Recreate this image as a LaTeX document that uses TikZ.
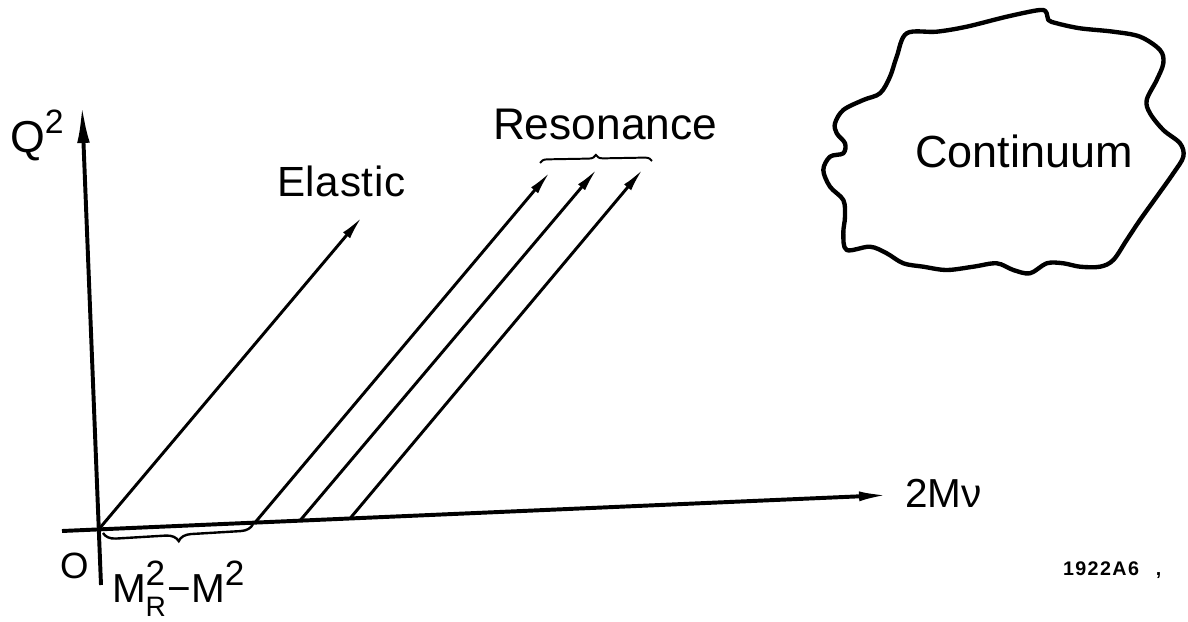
\documentclass[tikz,border=0pt]{standalone}
\usepackage{fontspec}
\setmainfont{Liberation Sans}
\usetikzlibrary{arrows.meta,decorations.pathreplacing}
\newcommand\setfs[1]{\fontsize{#1}{#1}\selectfont}
\begin{document}
\begin{tikzpicture}[x=0.025cm,y=-0.025cm,
  axis/.style={line width=2.8pt},
  ray/.style={line width=2.1pt,-{Latex[length=17pt,width=6.5pt]}},
  lbl/.style={anchor=base west,inner sep=0pt,outer sep=0pt},
  bracestyle/.style={line width=1.7pt,decorate},
  blob/.style={line width=3.1pt,line join=round}
]
\useasboundingbox (0,0) rectangle (1188,622);
% axes
\coordinate (ybot) at (101,585);
\coordinate (ytop) at (82,105);
\coordinate (xl) at (62,531);
\coordinate (xr) at (890,495);
\coordinate (o) at (98.7,529.4);
\draw[axis,-{Latex[length=27pt,width=9pt]}] (ybot) -- (ytop);
\draw[axis,-{Latex[length=22pt,width=7pt]}] (xl) -- (xr);
% rays
\coordinate (e1) at (362,217);
\coordinate (r1s) at (255,522.6);
\coordinate (r1e) at (550,172);
\coordinate (r2s) at (300,520.6);
\coordinate (r2e) at (597,169);
\coordinate (r3s) at (350,518.5);
\coordinate (r3e) at (643,169);
\draw[ray] (o) -- (e1);
\draw[ray] (r1s) -- (r1e);
\draw[ray] (r2s) -- (r2e);
\draw[ray] (r3s) -- (r3e);
% braces
\coordinate (bl) at (103,533);
\coordinate (br) at (253,524);
\draw[bracestyle,decoration={brace,mirror,amplitude=9pt}] (bl) -- (br);
\coordinate (tl) at (540,163);
\coordinate (tr) at (652,161);
\draw[bracestyle,line width=1.4pt,decoration={brace,amplitude=5pt}] (tl) -- (tr);
% continuum blob
\draw[blob] plot[smooth cycle,tension=0.55] coordinates {
(906.7,33.3) (936.7,31.7) (966.7,26.7) (1006.7,16.7) (1040,10) (1046.7,13.3)
(1048.3,20) (1056.7,23.3) (1080,28.3) (1113.3,31.7) (1140,36.7) (1160,50)
(1163.3,63.3) (1156.7,80) (1146.7,100) (1150,113.3) (1163.3,130) (1180,143.3)
(1183.3,156.7) (1173.3,173.3) (1156.7,196.7) (1140,220) (1126.7,240) (1113.3,260)
(1100,266.7) (1080,266.7) (1063.3,263.3) (1046.7,263.3) (1030,273.3) (1013.3,270)
(996.7,263.3) (973.3,266.7) (946.7,270) (923.3,266.7) (903.3,263.3) (886.7,253.3)
(870,246.7) (846.7,250) (843.3,233.3) (845,216.7) (843.3,200) (830,186.7)
(823.3,170) (830,156.7) (843.3,153.3) (845,143.3) (836.7,133.3) (835,123.3)
(843.3,110) (863.3,100) (880,93.3) (890,76.7) (896.7,56.7)};
% labels
\node[lbl] (qlab) at (10,153) {\setfs{31.8}Q\raisebox{14pt}{\setfs{24}2}};
\node[lbl] (elab) at (277,197) {\setfs{30}E\hspace{0.5pt}l\hspace{0.5pt}a\hspace{0.5pt}s\hspace{0.5pt}t\hspace{0.5pt}i\hspace{0.5pt}c};
\node[lbl] (rlab) at (493,140) {\setfs{31.5}Resonance};
\node[lbl] (clab) at (915,168) {\setfs{32}Continuum};
\node[lbl] (xlab) at (905,507) {\setfs{28.8}2Mν};
\node[lbl] (olab) at (60,578) {\setfs{26}O};
\node[lbl] (mlab) at (112,602) {\setfs{28.8}M\makebox[0pt][l]{\raisebox{12pt}{\setfs{25}2}}\raisebox{-10.5pt}{\setfs{20}R}\hspace{1pt}−M\raisebox{12pt}{\setfs{25}2}};
\node[lbl] (idlab) at (1063,575) {\setfs{14}\bfseries 1\hspace{1pt}9\hspace{1pt}2\hspace{1pt}2\hspace{1pt}A\hspace{1pt}6\hspace{12pt},};
\end{tikzpicture}
\end{document}
